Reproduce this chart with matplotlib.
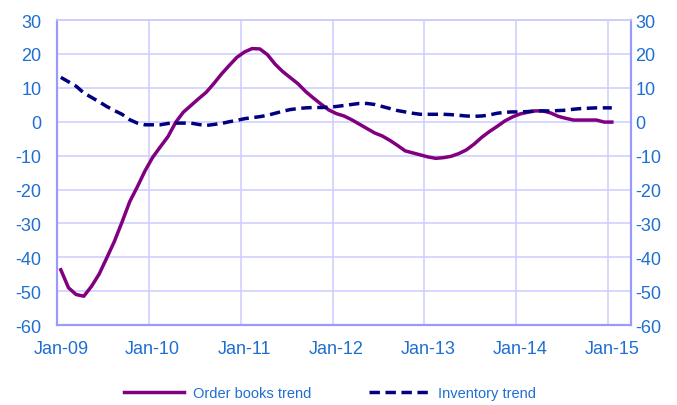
import matplotlib
matplotlib.use('Agg')
import matplotlib.pyplot as plt
import numpy as np

plt.rcParams['font.family'] = ['Liberation Sans', 'DejaVu Sans']
plt.rcParams['axes.unicode_minus'] = False

# monthly data, Jan-09 .. Jan-15
order_books = [-43.7, -49.0, -51.0, -51.5, -48.6, -45.0, -40.2, -35.3, -29.6, -23.6,
               -19.2, -14.5, -10.5, -7.4, -4.4, -0.2, 2.8, 4.8, 6.8, 8.7,
               11.3, 14.1, 16.6, 19.0, 20.6, 21.6, 21.5, 19.8, 17.0, 14.8,
               13.0, 11.2, 8.9, 7.0, 5.2, 3.5, 2.4, 1.7, 0.6, -0.7,
               -2.0, -3.3, -4.2, -5.5, -7.0, -8.6, -9.2, -9.8, -10.4, -10.8,
               -10.6, -10.2, -9.4, -8.3, -6.6, -4.6, -2.9, -1.4, 0.2, 1.4,
               2.3, 2.8, 3.2, 3.2, 2.6, 1.6, 1.0, 0.5, 0.5, 0.5,
               0.5, -0.1, -0.1]
inventory = [13.1, 11.8, 10.5, 8.5, 7.2, 5.9, 4.5, 3.3, 2.2, 0.6,
             -0.4, -0.9, -0.9, -0.9, -0.5, -0.4, -0.4, -0.4, -0.8, -1.1,
             -0.8, -0.5, 0.0, 0.4, 0.9, 1.2, 1.5, 1.9, 2.5, 3.1,
             3.6, 3.9, 4.1, 4.2, 4.2, 4.3, 4.5, 4.8, 5.1, 5.4,
             5.4, 5.1, 4.5, 3.9, 3.3, 2.9, 2.5, 2.2, 2.2, 2.2,
             2.2, 2.1, 1.9, 1.7, 1.6, 1.7, 2.0, 2.5, 2.8, 2.9,
             2.9, 3.0, 3.2, 3.2, 3.2, 3.3, 3.4, 3.7, 3.9, 4.0,
             4.1, 4.1, 4.1]
year_labels = ['Jan-09', 'Jan-10', 'Jan-11', 'Jan-12', 'Jan-13', 'Jan-14', 'Jan-15']

text_col = '#1F6FD1'
grid_col = '#CCCCFF'
spine_col = '#9999FF'

months = np.arange(len(order_books))

fig = plt.figure(figsize=(6.77, 4.06), dpi=100)
ax = fig.add_axes([0.0842, 0.197, 0.8478, 0.751])

ax.plot(months, order_books, color='#800080', lw=2.5, label='Order books trend', zorder=3)
ax.plot(months, inventory, color='#000080', lw=2.5, dashes=(3, 1.6), label='Inventory trend', zorder=3)

ax.set_xlim(-0.5, 74.5)
ax.set_ylim(-60, 30)
ax.set_yticks(np.arange(-60, 31, 10))

# labels at the Jan points, grid lines at category boundaries
ax.set_xticks(np.arange(0, 73, 12))
ax.set_xticklabels(year_labels)
ax.set_xticks(np.arange(0, 73, 12) - 0.5, minor=True)
ax.grid(False)
ax.grid(True, axis='x', which='minor', color=grid_col, lw=1.1)
ax.grid(True, axis='y', which='major', color=grid_col, lw=1.1)
ax.set_axisbelow(True)

ax.tick_params(axis='both', which='both', length=0, labelsize=13, colors=text_col)
ax.tick_params(axis='x', pad=11)
ax.tick_params(axis='y', pad=11)

ax2 = ax.twinx()
ax2.set_ylim(-60, 30)
ax2.set_yticks(np.arange(-60, 31, 10))
ax2.tick_params(axis='y', length=0, labelsize=13, colors=text_col, pad=3)

for a in (ax, ax2):
    for s in ('left', 'right', 'bottom'):
        a.spines[s].set_color(spine_col)
        a.spines[s].set_linewidth(1.5)
    a.spines['top'].set_color(grid_col)
    a.spines['top'].set_linewidth(1.1)

fig.legend(loc='center', bbox_to_anchor=(330 / 677, 1 - 394 / 406), ncol=2,
           frameon=False, fontsize=10.5, labelcolor=text_col,
           handlelength=4.1, handletextpad=0.6, columnspacing=4.0)

plt.savefig('out.png', dpi=100)
